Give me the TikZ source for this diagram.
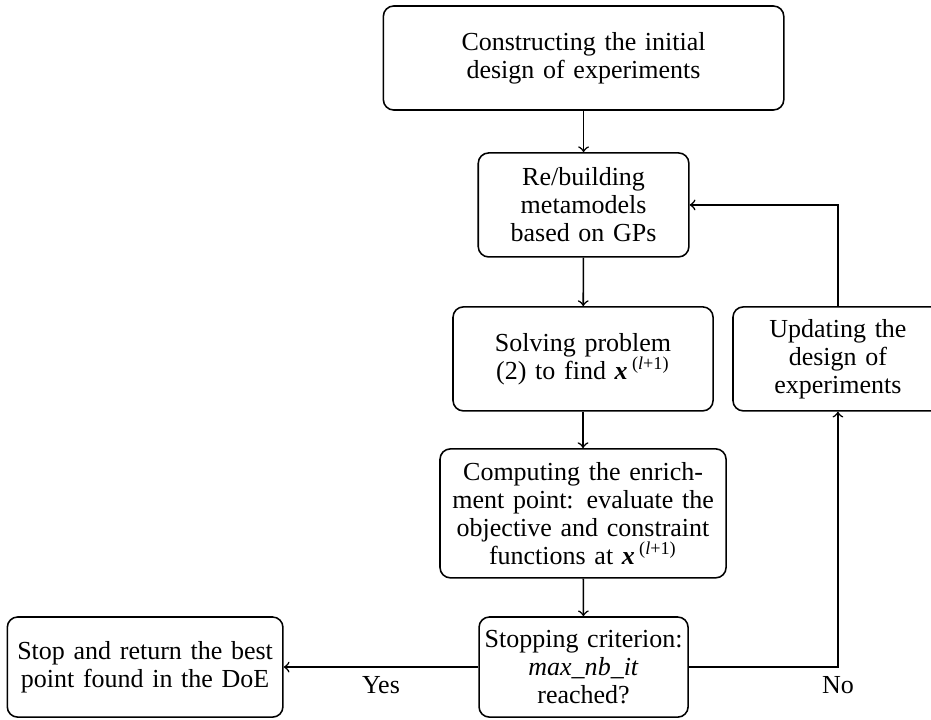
\documentclass[tikz,border=0pt]{standalone}
\usepackage{fontspec}
\setmainfont{Liberation Serif}
\usetikzlibrary{positioning}

\newcommand{\xnext}{{\bfseries\itshape x}\,\textsuperscript{(\textit{l}+1)}}

\begin{document}
\begin{tikzpicture}[x=1pt, y=1pt,
    box/.style={draw, rounded corners=4pt, align=center, inner xsep=1pt, inner ysep=2pt,
      line width=0.6pt, font=\fontsize{10}{10.8}\selectfont},
    flow/.style={->, line width=0.6pt}]
  \useasboundingbox (0,0) rectangle (358,-276.5);
  % main chain, all centred on the same column
  \node[box, text width=152pt, minimum height=40pt] (init) at (224.4,-22.3)
    {Constructing the initial\\design of experiments};
  \node[box, text width=79pt, minimum height=40pt] (build) at (224.4,-78.8)
    {Re/building\\metamodels\\based on GPs};
  \node[box, text width=98pt, minimum height=40pt] (solve) at (224.2,-138.0)
    {Solving problem\\(2) to find \xnext};
  \node[box, text width=108pt, minimum height=49.6pt] (enrich) at (224.2,-197.4)
    {Computing the enrich-\\ment point: evaluate the\\objective and constraint\\functions at \xnext};
  \node[box, text width=78.4pt, minimum height=38.5pt] (check) at (224.4,-256.5)
    {Stopping criterion:\\\textit{max\_nb\_it}\\reached?};
  % side boxes
  \node[box, text width=104pt, minimum height=38.5pt] (stop) at (55.8,-256.5)
    {Stop and return the best\\point found in the DoE};
  \node[box, text width=78.7pt, minimum height=40pt] (update) at (322.2,-138.0)
    {Updating the\\design of\\experiments};
  \foreach \a/\b in {init/build, build/solve, solve/enrich, enrich/check} {
    \draw[flow] (\a) -- (\b);
  }
  \draw[flow] (check) -- node[below, font=\fontsize{10}{10.8}\selectfont] {Yes} (stop);
  \draw[flow] (check.east) -| node[pos=0.5, below, font=\fontsize{10}{10.8}\selectfont] {No} (update.south);
  \draw[flow] (update.north) |- (build.east);
\end{tikzpicture}
\end{document}
